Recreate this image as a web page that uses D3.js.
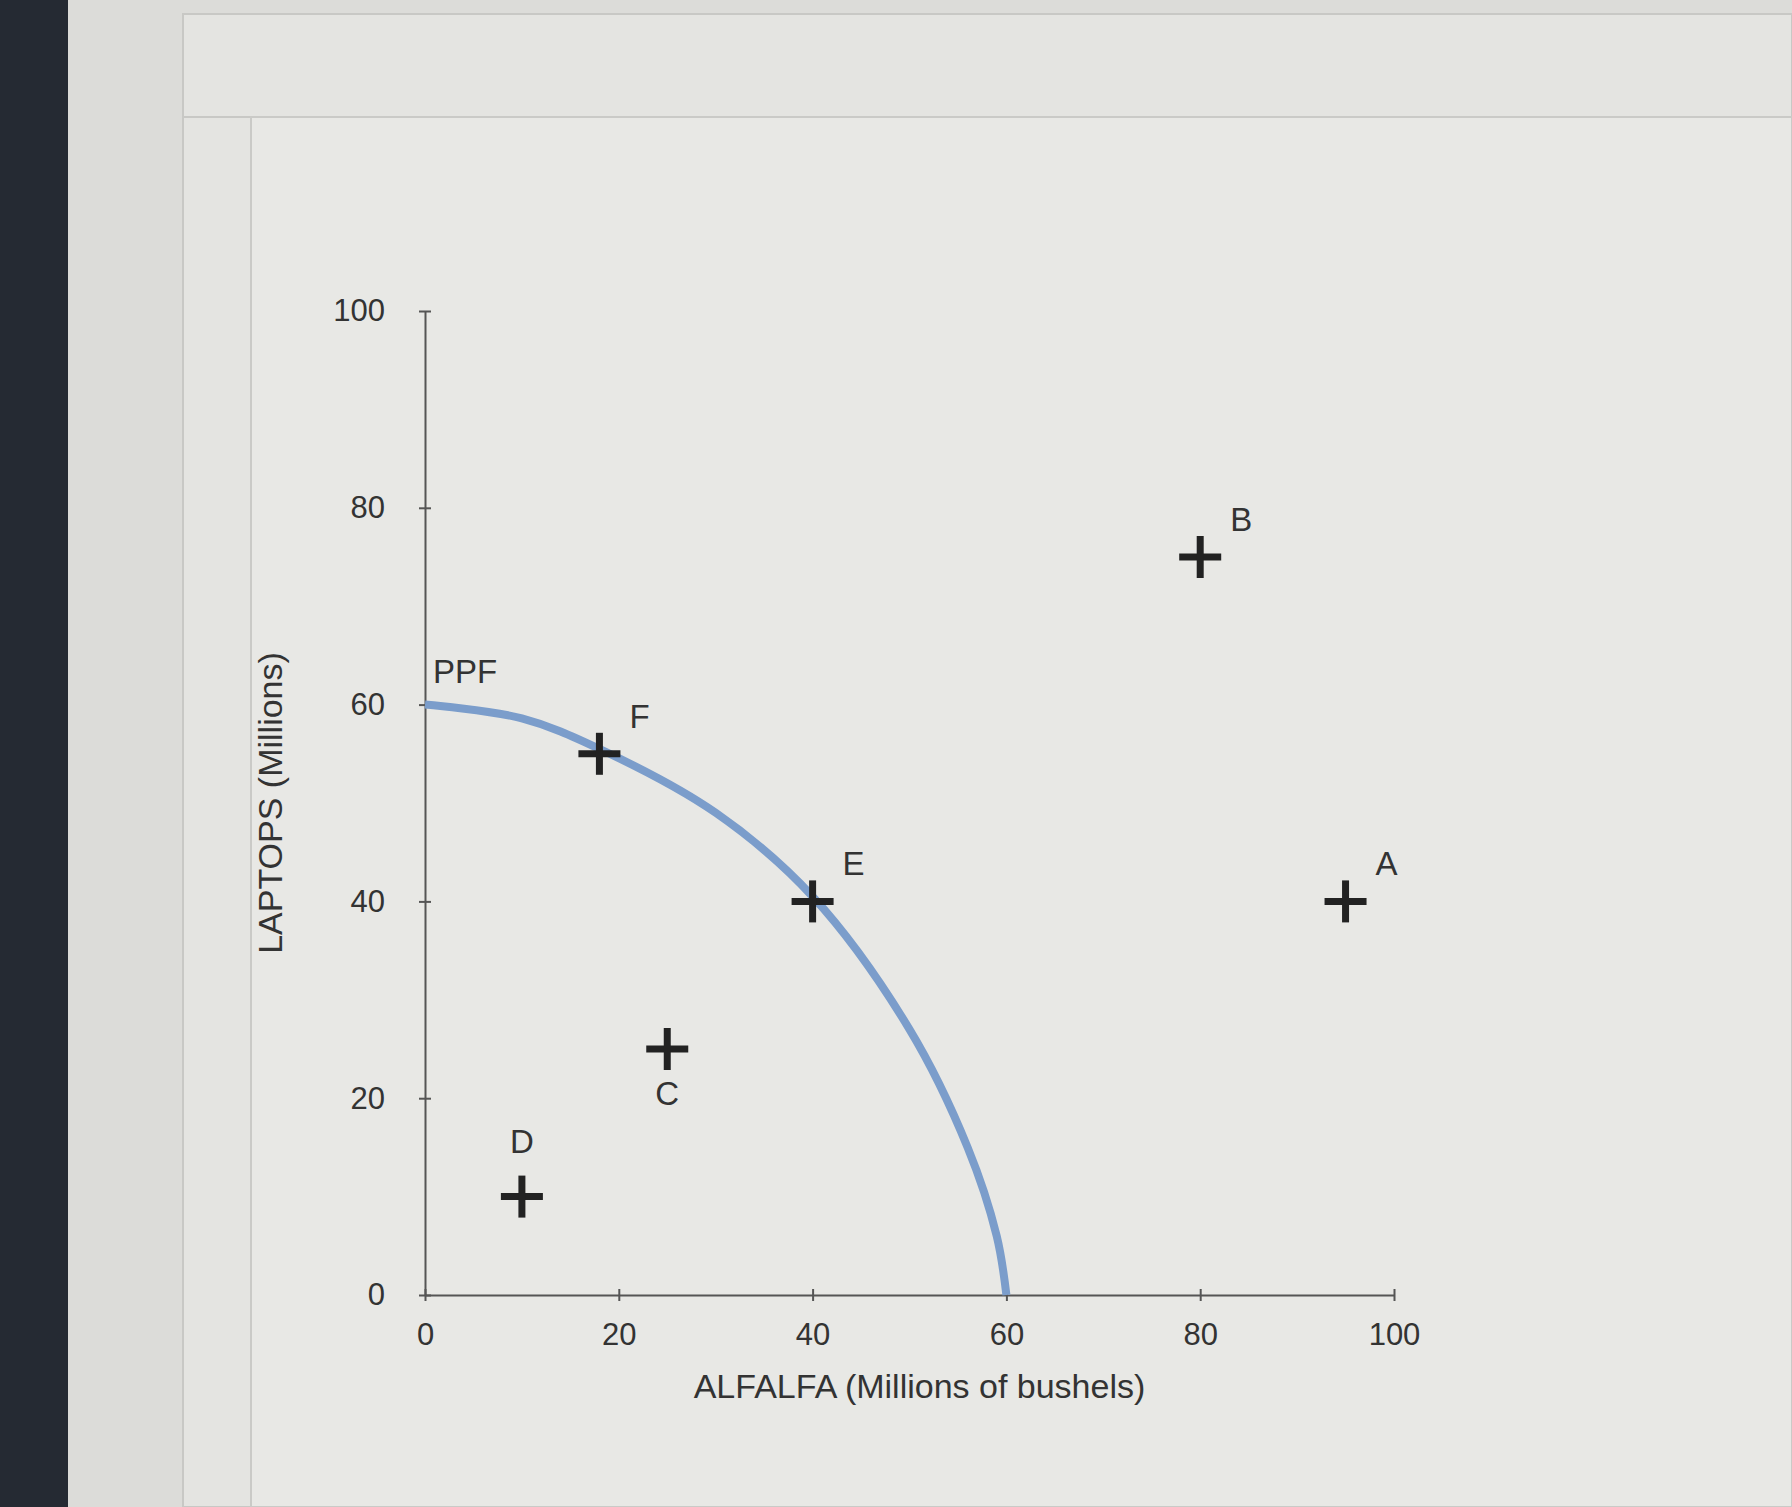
<!DOCTYPE html>
<html>
<head>
<script src="https://d3js.org/d3.v7.min.js"></script>
<style>
  body { margin: 0; background: #d9d9d6; }
  text { font-family: "Liberation Sans", Arial, sans-serif; fill: #333; }
</style>
</head>
<body>
<svg id="chart" width="1792" height="1507"></svg>
<script>
// values
var xTicks = [0, 20, 40, 60, 80, 100];
var yTicks = [0, 20, 40, 60, 80, 100];
var ppfX = [0, 10, 18, 30, 40, 50, 56, 59, 60];
var ppfY = [60, 58.6, 55.5, 49, 40.5, 27, 15, 6, 0];
var pointNames = ["A", "B", "C", "D", "E", "F"];
var pointX = [95, 80, 25, 10, 40, 18];
var pointY = [40, 75, 25, 10, 40, 55];

var svg = d3.select("#chart");

// screen-like backdrop
svg.append("rect").attr("width", 1792).attr("height", 1507).attr("fill", "#dcdcd9");
svg.append("rect").attr("x", 0).attr("y", 0).attr("width", 68).attr("height", 1507).attr("fill", "#252a33");
svg.append("rect").attr("x", 183).attr("y", 14).attr("width", 1609).attr("height", 1493).attr("fill", "#e4e4e1")
  .attr("stroke", "#c8c8c5").attr("stroke-width", 2);
svg.append("line").attr("x1", 183).attr("y1", 117).attr("x2", 1792).attr("y2", 117).attr("stroke", "#c8c8c5").attr("stroke-width", 2);
svg.append("rect").attr("x", 251).attr("y", 117).attr("width", 1541).attr("height", 1390).attr("fill", "#e8e8e5")
  .attr("stroke", "#cacac7").attr("stroke-width", 2);

var x = d3.scaleLinear().domain([0, 100]).range([425, 1394]);
var y = d3.scaleLinear().domain([0, 100]).range([1295, 311]);

var xAxis = svg.append("g").attr("transform", "translate(0," + y(0) + ")")
  .call(d3.axisBottom(x).tickValues(xTicks).tickSize(-12).tickSizeOuter(0).tickPadding(28));
var yAxis = svg.append("g").attr("transform", "translate(" + x(0) + ",0)")
  .call(d3.axisLeft(y).tickValues(yTicks).tickSize(-12).tickSizeOuter(0).tickPadding(40));
[xAxis, yAxis].forEach(function (g) {
  g.selectAll("path, line").attr("stroke", "#555").attr("stroke-width", 2);
  g.selectAll("text").attr("font-size", 31).attr("fill", "#444");
});
xAxis.selectAll("line").attr("transform", "translate(0,6)");
yAxis.selectAll("line").attr("transform", "translate(-6,0)");

svg.append("text").attr("x", (x(0) + x(100)) / 2 + 10).attr("y", 1398).attr("text-anchor", "middle")
  .attr("font-size", 34).text("ALFALFA (Millions of bushels)");
svg.append("text").attr("transform", "translate(282," + y(50) + ") rotate(-90)").attr("text-anchor", "middle")
  .attr("font-size", 34).text("LAPTOPS (Millions)");

// PPF curve
var ppf = ppfX.map(function (v, i) { return [v, ppfY[i]]; });
svg.append("path").datum(ppf)
  .attr("d", d3.line().x(function (d) { return x(d[0]); }).y(function (d) { return y(d[1]); }).curve(d3.curveCatmullRom))
  .attr("fill", "none").attr("stroke", "#7b9dcb").attr("stroke-width", 8);
svg.append("text").attr("x", x(0) + 8).attr("y", y(60) - 22).attr("font-size", 33).text("PPF");

// points
var labelOffsets = { A: [30, -26], B: [30, -26], C: [0, 56], D: [0, -44], E: [30, -26], F: [30, -26] };
pointNames.forEach(function (n, i) {
  var px = x(pointX[i]), py = y(pointY[i]);
  var g = svg.append("g");
  g.append("line").attr("x1", px - 21).attr("x2", px + 21).attr("y1", py).attr("y2", py).attr("stroke", "#222").attr("stroke-width", 7);
  g.append("line").attr("x1", px).attr("x2", px).attr("y1", py - 21).attr("y2", py + 21).attr("stroke", "#222").attr("stroke-width", 7);
  var o = labelOffsets[n];
  g.append("text").attr("x", px + o[0]).attr("y", py + o[1]).attr("text-anchor", o[0] ? "start" : "middle")
    .attr("font-size", 33).text(n);
});
</script>
</body>
</html>
